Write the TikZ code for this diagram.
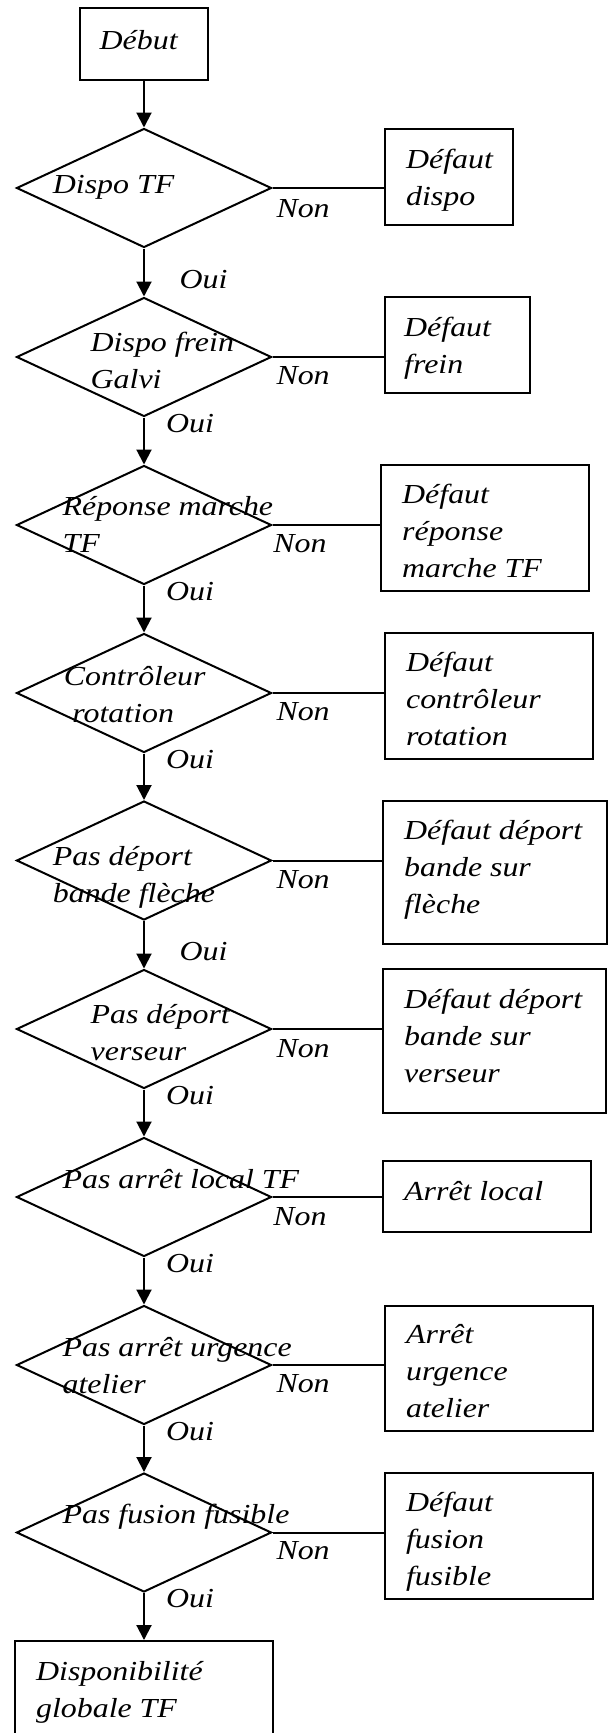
\documentclass[tikz,border=0pt]{standalone}
\usepackage{fontspec}
\setmainfont{Liberation Serif}[FakeStretch=1.16]
\usetikzlibrary{shapes.geometric,arrows.meta}
\tikzset{
  decision/.style={draw,diamond,line width=2pt,minimum width=255pt,minimum height=119pt,inner sep=0pt},
  block/.style={draw,rectangle,line width=2pt,inner sep=0pt},
  txt/.style={anchor=base west,inner sep=0pt,align=left,font=\itshape\fontsize{27.5}{36.7}\selectfont},
  flow/.style={line width=2pt,-{Triangle[length=15pt,width=15pt]}},
  link/.style={line width=2pt}
}
\begin{document}
\begin{tikzpicture}[x=1pt,y=-1pt]
                \clip (0,0) rectangle (612.000000,1733.000000);

                % Drawing box debut
                \node[block,minimum width=128pt,minimum height=72pt] (debut) at (144.000000,44.000000) {};
                \node[txt] (tdebut) at (99.500000,49.000000) {Début};

                % Drawing test dispo
                \node[decision] (dispo) at (144.000000,188.000000) {};
                \node[txt] (tdispo) at (52.700000,193.000000) {Dispo TF};
                \node[block,minimum width=128pt,minimum height=96pt] (fdispo) at (449.200000,177.000000) {};
                \node[txt] (tfdispo) at (405.900000,205.000000) {Défaut\\dispo};
                \node[txt] (non1) at (276.300000,217.000000) {Non};
                \node[txt] (oui1) at (179.500000,288.000000) {Oui};

                % Drawing test frein
                \node[decision] (frein) at (144.000000,357.000000) {};
                \node[txt] (tfrein) at (90.500000,388.000000) {Dispo frein\\Galvi};
                \node[block,minimum width=144.4pt,minimum height=96pt] (ffrein) at (457.400000,345.000000) {};
                \node[txt] (tffrein) at (404.000000,373.000000) {Défaut\\frein};
                \node[txt] (non2) at (276.300000,384.000000) {Non};
                \node[txt] (oui2) at (165.900000,432.000000) {Oui};

                % Drawing test marche
                \node[decision] (marche) at (144.000000,525.000000) {};
                \node[txt] (tmarche) at (62.400000,552.000000) {Réponse marche\\TF};
                \node[block,minimum width=208pt,minimum height=126pt] (fmarche) at (485.300000,528.000000) {};
                \node[txt] (tfmarche) at (402.000000,577.000000) {Défaut\\réponse\\marche TF};
                \node[txt] (non3) at (273.200000,552.000000) {Non};
                \node[txt] (oui3) at (165.900000,600.000000) {Oui};

                % Drawing test rotation
                \node[decision] (rotation) at (144.000000,693.000000) {};
                \node[txt] (trotation) at (63.600000,722.000000) {Contrôleur\\\hspace*{8.6pt}rotation};
                \node[block,minimum width=208pt,minimum height=126pt] (frotation) at (489.200000,696.000000) {};
                \node[txt] (tfrotation) at (405.900000,745.000000) {Défaut\\contrôleur\\rotation};
                \node[txt] (non4) at (276.300000,720.000000) {Non};
                \node[txt] (oui4) at (165.900000,768.000000) {Oui};

                % Drawing test fleche
                \node[decision] (fleche) at (144.000000,860.500000) {};
                \node[txt] (tfleche) at (52.700000,902.000000) {Pas déport\\bande flèche};
                \node[block,minimum width=223.6pt,minimum height=143pt] (ffleche) at (495.100000,872.500000) {};
                \node[txt] (tffleche) at (404.000000,913.000000) {Défaut déport\\bande sur\\flèche};
                \node[txt] (non5) at (276.300000,888.000000) {Non};
                \node[txt] (oui5) at (179.500000,960.000000) {Oui};

                % Drawing test verseur
                \node[decision] (verseur) at (144.000000,1029.000000) {};
                \node[txt] (tverseur) at (90.500000,1060.000000) {Pas déport\\verseur};
                \node[block,minimum width=222.4pt,minimum height=144pt] (fverseur) at (494.500000,1041.000000) {};
                \node[txt] (tfverseur) at (404.000000,1082.000000) {Défaut déport\\bande sur\\verseur};
                \node[txt] (non6) at (276.300000,1057.000000) {Non};
                \node[txt] (oui6) at (165.900000,1104.000000) {Oui};

                % Drawing test local
                \node[decision] (local) at (144.000000,1197.000000) {};
                \node[txt] (tlocal) at (62.400000,1188.000000) {Pas arrêt local TF};
                \node[block,minimum width=208pt,minimum height=71pt] (flocal) at (487.300000,1196.500000) {};
                \node[txt] (tflocal) at (404.000000,1200.000000) {Arrêt local};
                \node[txt] (non7) at (273.200000,1225.000000) {Non};
                \node[txt] (oui7) at (165.900000,1272.000000) {Oui};

                % Drawing test urgence
                \node[decision] (urgence) at (144.000000,1365.000000) {};
                \node[txt] (turgence) at (62.400000,1393.000000) {Pas arrêt urgence\\atelier};
                \node[block,minimum width=208pt,minimum height=125pt] (furgence) at (489.200000,1368.500000) {};
                \node[txt] (tfurgence) at (405.900000,1417.000000) {Arrêt\\urgence\\atelier};
                \node[txt] (non8) at (276.300000,1392.000000) {Non};
                \node[txt] (oui8) at (165.900000,1440.000000) {Oui};

                % Drawing test fusible
                \node[decision] (fusible) at (144.000000,1532.500000) {};
                \node[txt] (tfusible) at (62.400000,1523.000000) {Pas fusion fusible};
                \node[block,minimum width=208pt,minimum height=126pt] (ffusible) at (489.200000,1536.000000) {};
                \node[txt] (tffusible) at (405.900000,1585.000000) {Défaut\\fusion\\fusible};
                \node[txt] (non9) at (276.300000,1559.000000) {Non};
                \node[txt] (oui9) at (165.900000,1607.000000) {Oui};

                % Drawing box fin
                \node[block,minimum width=258.4pt,minimum height=120pt] (fin) at (144.000000,1701.000000) {};
                \node[txt] (tfin) at (35.900000,1717.000000) {Disponibilité\\globale TF};

                % Drawing arrows Oui
                \draw[flow] (debut.south) -- (dispo.north);
                \draw[flow] (dispo.south) -- (frein.north);
                \draw[flow] (frein.south) -- (marche.north);
                \draw[flow] (marche.south) -- (rotation.north);
                \draw[flow] (rotation.south) -- (fleche.north);
                \draw[flow] (fleche.south) -- (verseur.north);
                \draw[flow] (verseur.south) -- (local.north);
                \draw[flow] (local.south) -- (urgence.north);
                \draw[flow] (urgence.south) -- (fusible.north);
                \draw[flow] (fusible.south) -- (fin.north);

                % Drawing segments Non
                \draw[link] (dispo.east) -- (dispo.east -| fdispo.west);
                \draw[link] (frein.east) -- (frein.east -| ffrein.west);
                \draw[link] (marche.east) -- (marche.east -| fmarche.west);
                \draw[link] (rotation.east) -- (rotation.east -| frotation.west);
                \draw[link] (fleche.east) -- (fleche.east -| ffleche.west);
                \draw[link] (verseur.east) -- (verseur.east -| fverseur.west);
                \draw[link] (local.east) -- (local.east -| flocal.west);
                \draw[link] (urgence.east) -- (urgence.east -| furgence.west);
                \draw[link] (fusible.east) -- (fusible.east -| ffusible.west);
\end{tikzpicture}
\end{document}
